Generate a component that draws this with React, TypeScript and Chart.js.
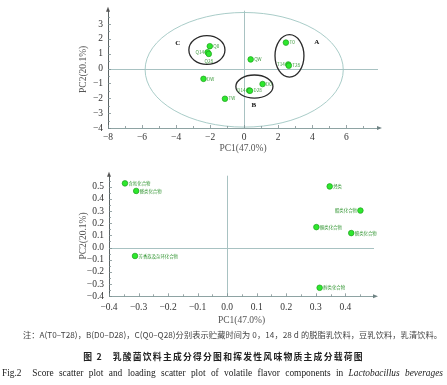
import React, { useEffect, useRef } from 'react';
import { Chart, registerables } from 'chart.js';

Chart.register(...registerables);

// ---------- Score plot (top) ----------
const scoreLabels = ['Q0', 'Q14', 'Q28', 'QW', 'T0', 'T14', 'T28', 'D0', 'D14', 'D28', 'DW', 'TW'];
const scoreX = [-2.02, -2.15, -2.08, 0.38, 2.45, 2.59, 2.62, 1.08, 0.29, 0.34, -2.39, -1.13];
const scoreY = [1.51, 1.1, 0.99, 0.62, 1.75, 0.28, 0.2, -1.04, -1.47, -1.49, -0.69, -2.03];
const scoreLabelSide = ['right', 'left', 'below', 'right', 'right', 'left', 'right', 'right', 'left', 'right', 'right', 'right'];

const groupNames = ['A', 'B', 'C'];
const groupCx = [2.66, 0.6, -2.19];
const groupCy = [0.86, -1.21, 1.25];
const groupRx = [0.85, 1.09, 1.06];
const groupRy = [1.43, 0.78, 0.97];
const groupLetterX = [4.27, 0.57, -3.9];
const groupLetterY = [1.77, -2.44, 1.7];

// 95% confidence ellipse
const confCx = 0;
const confCy = -0.08;
const confRx = 5.82;
const confRy = 3.86;

const scoreXTicks = [-8, -6, -4, -2, 0, 2, 4, 6];
const scoreYTicks = [-4, -3, -2, -1, 0, 1, 2, 3];

// ---------- Loading plot (bottom) ----------
const loadLabels = ['含氮化合物', '醛类化合物', '芳香族及杂环化合物', '烃类', '酯类化合物', '酮类化合物', '酸类化合物', '醇类化合物'];
const loadX = [-0.346, -0.308, -0.312, 0.347, 0.451, 0.302, 0.42, 0.313];
const loadY = [0.527, 0.465, -0.069, 0.502, 0.304, 0.168, 0.119, -0.33];
const loadLabelSide = ['right', 'right', 'right', 'right', 'left', 'right', 'right', 'right'];

const loadXTicks = [-0.4, -0.3, -0.2, -0.1, 0.0, 0.1, 0.2, 0.3, 0.4];
const loadYTicks = [-0.4, -0.3, -0.2, -0.1, 0.0, 0.1, 0.2, 0.3, 0.4, 0.5];

const SERIF = '"Liberation Serif", "Times New Roman", serif';
const CJK = '"Noto Sans CJK SC", "Noto Sans", sans-serif';

type Extra = {
  labels: string[];
  sides: string[];
  minorX: number;
  minorY: number;
  groups?: boolean;
};

function decorPlugin(extra: Extra) {
  return {
    id: 'decor',
    beforeDatasetsDraw(chart: any) {
      const { ctx, chartArea: a, scales } = chart;
      const x = scales.x;
      const y = scales.y;
      ctx.save();
      ctx.strokeStyle = '#a8c2c2';
      ctx.lineWidth = 1;
      const x0 = Math.round(x.getPixelForValue(0)) + 0.5;
      const y0 = Math.round(y.getPixelForValue(0)) + 0.5;
      ctx.beginPath();
      ctx.moveTo(x0, a.top);
      ctx.lineTo(x0, a.bottom);
      ctx.moveTo(a.left, y0);
      ctx.lineTo(a.right, y0);
      ctx.stroke();

      if (extra.groups) {
        const ell = (cx: number, cy: number, rx: number, ry: number) => {
          const px = x.getPixelForValue(cx);
          const py = y.getPixelForValue(cy);
          const prx = Math.abs(x.getPixelForValue(cx + rx) - px);
          const pry = Math.abs(y.getPixelForValue(cy + ry) - py);
          ctx.beginPath();
          ctx.ellipse(px, py, prx, pry, 0, 0, Math.PI * 2);
          ctx.stroke();
        };
        ctx.strokeStyle = '#9fc6c2';
        ctx.lineWidth = 0.9;
        ell(confCx, confCy, confRx, confRy);
        ctx.strokeStyle = '#2a2a2a';
        ctx.lineWidth = 1.3;
        for (let i = 0; i < groupNames.length; i++) {
          ell(groupCx[i], groupCy[i], groupRx[i], groupRy[i]);
        }
        ctx.fillStyle = '#111';
        ctx.font = 'bold 7px ' + SERIF;
        ctx.textAlign = 'center';
        ctx.textBaseline = 'middle';
        for (let i = 0; i < groupNames.length; i++) {
          ctx.fillText(groupNames[i], x.getPixelForValue(groupLetterX[i]), y.getPixelForValue(groupLetterY[i]));
        }
      }
      ctx.restore();
    },
    afterDatasetsDraw(chart: any) {
      const { ctx } = chart;
      const meta = chart.getDatasetMeta(0);
      ctx.save();
      ctx.fillStyle = '#3a9a3a';
      ctx.font = (extra.groups ? '4.6px ' : '4.4px ') + CJK;
      ctx.textBaseline = 'middle';
      meta.data.forEach((pt: any, i: number) => {
        const side = extra.sides[i];
        const t = extra.labels[i];
        if (side === 'left') {
          ctx.textAlign = 'right';
          ctx.fillText(t, pt.x - 3.5, pt.y);
        } else if (side === 'below') {
          ctx.textAlign = 'center';
          ctx.fillText(t, pt.x, pt.y + 7);
        } else {
          ctx.textAlign = 'left';
          ctx.fillText(t, pt.x + 3.5, pt.y);
        }
      });
      ctx.restore();
    },
    afterDraw(chart: any) {
      const { ctx, chartArea: a, scales } = chart;
      const x = scales.x;
      const y = scales.y;
      ctx.save();
      ctx.strokeStyle = '#7d8f90';
      ctx.lineWidth = 0.8;
      ctx.beginPath();
      const xmin = x.min;
      const xmax = x.max;
      const nx = Math.floor((xmax - xmin) / extra.minorX + 1e-6);
      for (let i = 0; i <= nx; i++) {
        const v = xmin + i * extra.minorX;
        const px = Math.round(x.getPixelForValue(v)) + 0.5;
        const major = i % 2 === 0;
        ctx.moveTo(px, a.bottom);
        ctx.lineTo(px, a.bottom - (major ? 3 : 2));
      }
      const ymin = y.min;
      const ymax = y.max;
      const ny = Math.floor((ymax - ymin) / extra.minorY + 1e-6);
      for (let i = 0; i <= ny; i++) {
        const v = ymin + i * extra.minorY;
        const py = Math.round(y.getPixelForValue(v)) + 0.5;
        const major = i % 2 === 0;
        ctx.moveTo(a.left, py);
        ctx.lineTo(a.left + (major ? 3 : 2), py);
      }
      ctx.stroke();
      // arrows
      ctx.fillStyle = '#555';
      ctx.beginPath();
      ctx.moveTo(a.left, a.top - 4);
      ctx.lineTo(a.left - 2, a.top + 1);
      ctx.lineTo(a.left + 2, a.top + 1);
      ctx.closePath();
      ctx.fill();
      ctx.fillStyle = '#6f8384';
      ctx.beginPath();
      ctx.moveTo(a.right + 4, a.bottom);
      ctx.lineTo(a.right - 1, a.bottom - 2);
      ctx.lineTo(a.right - 1, a.bottom + 2);
      ctx.closePath();
      ctx.fill();
      ctx.restore();
    },
  };
}

type Setup = {
  xs: number[];
  ys: number[];
  xTicks: number[];
  yTicks: number[];
  xMin: number;
  xMax: number;
  yMin: number;
  yMax: number;
  decimals: number;
  yAxisWidth: number;
  xAxisHeight: number;
  padTop: number;
  padRight: number;
  xLabelPad: number;
  xTitlePad: number;
  extra: Extra;
};

function fmt(v: number, d: number) {
  const s = Math.abs(v) < 1e-9 ? (0).toFixed(d) : v.toFixed(d);
  return s.replace('-', '\u2212');
}

function ChartBox({ setup, width, height, left, top }: { setup: Setup; width: number; height: number; left: number; top: number }) {
  const ref = useRef<HTMLCanvasElement | null>(null);
  useEffect(() => {
    if (!ref.current) return;
    const s = setup;
    const pts = s.xs.map((v, i) => ({ x: v, y: s.ys[i] }));
    const chart = new Chart(ref.current, {
      type: 'scatter',
      data: {
        datasets: [
          {
            data: pts,
            pointRadius: 2.8,
            pointHoverRadius: 2.8,
            backgroundColor: '#2de82d',
            borderColor: '#1f9f1f',
            borderWidth: 0.7,
          },
        ],
      },
      plugins: [decorPlugin(s.extra)],
      options: {
        animation: false,
        responsive: false,
        maintainAspectRatio: false,
        events: [],
        layout: { padding: { top: s.padTop, right: s.padRight, left: 0, bottom: 0 } },
        plugins: { legend: { display: false }, tooltip: { enabled: false } },
        scales: {
          x: {
            type: 'linear',
            min: s.xMin,
            max: s.xMax,
            afterFit: (sc: any) => {
              sc.height = s.xAxisHeight;
            },
            afterBuildTicks: (sc: any) => {
              sc.ticks = s.xTicks.map((v) => ({ value: v }));
            },
            ticks: {
              autoSkip: false,
              maxRotation: 0,
              padding: s.xLabelPad,
              color: '#333',
              font: { family: SERIF, size: 9.5 },
              callback: (v: any) => fmt(Number(v), s.decimals),
            },
            grid: { display: false, drawTicks: false },
            border: { display: true, color: '#8ea3a3', width: 1 },
            title: {
              display: true,
              text: 'PC1(47.0%)',
              color: '#555',
              font: { family: SERIF, size: 9.5 },
              padding: { top: 0, bottom: s.xTitlePad },
            },
          },
          y: {
            type: 'linear',
            min: s.yMin,
            max: s.yMax,
            afterFit: (sc: any) => {
              sc.width = s.yAxisWidth;
            },
            afterBuildTicks: (sc: any) => {
              sc.ticks = s.yTicks.map((v) => ({ value: v }));
            },
            ticks: {
              autoSkip: false,
              padding: 5,
              color: '#333',
              font: { family: SERIF, size: 9.5 },
              callback: (v: any) => fmt(Number(v), s.decimals),
            },
            grid: { display: false, drawTicks: false },
            border: { display: true, color: '#5c6465', width: 1 },
            title: {
              display: true,
              text: 'PC2(20.1%)',
              color: '#555',
              font: { family: SERIF, size: 9.5 },
              padding: { top: 83 - 5.7, bottom: 0 },
            },
          },
        },
      } as any,
    });
    return () => chart.destroy();
  }, [setup]);
  return (
    <canvas
      ref={ref}
      width={width}
      height={height}
      style={{ position: 'absolute', left, top, width, height }}
    />
  );
}

const topSetup: Setup = {
  xs: scoreX,
  ys: scoreY,
  xTicks: scoreXTicks,
  yTicks: scoreYTicks,
  xMin: -8,
  xMax: 7.86,
  yMin: -4,
  yMax: 3.9,
  decimals: 0,
  yAxisWidth: 108,
  xAxisHeight: 27,
  padTop: 6,
  padRight: 69,
  xLabelPad: 4,
  xTitlePad: 1,
  extra: { labels: scoreLabels, sides: scoreLabelSide, minorX: 1, minorY: 0.5, groups: true },
};

const bottomSetup: Setup = {
  xs: loadX,
  ys: loadY,
  xTicks: loadXTicks,
  yTicks: loadYTicks,
  xMin: -0.4,
  xMax: 0.497,
  yMin: -0.4,
  yMax: 0.59,
  decimals: 1,
  yAxisWidth: 109,
  xAxisHeight: 33.7,
  padTop: 10,
  padRight: 73,
  xLabelPad: 5,
  xTitlePad: 4.3,
  extra: { labels: loadLabels, sides: loadLabelSide, minorX: 0.05, minorY: 0.05 },
};

export default function App() {
  return (
    <div style={{ position: 'absolute', left: 0, top: 0, width: 447, height: 385, background: '#fff', overflow: 'hidden' }}>
      <ChartBox setup={topSetup} width={447} height={155} left={0} top={0} />
      <ChartBox setup={bottomSetup} width={447} height={165} left={0} top={165} />
      <div
        style={{
          position: 'absolute',
          left: 23,
          width: 419,
          top: 329,
          whiteSpace: 'nowrap',
          fontFamily: CJK,
          fontSize: 8.2,
          lineHeight: '11px',
          color: '#444',
          textAlign: 'justify',
          textAlignLast: 'justify',
        }}
      >
        注：A(T0–T28)，B(D0–D28)，C(Q0–Q28)分别表示贮藏时间为 0，14，28 d 的脱脂乳饮料，豆乳饮料，乳清饮料。
      </div>
      <div
        style={{
          position: 'absolute',
          left: 0,
          width: 447,
          top: 351,
          textAlign: 'center',
          whiteSpace: 'nowrap',
          fontFamily: CJK,
          fontWeight: 'bold',
          fontSize: 8.8,
          letterSpacing: '1.25px',
          lineHeight: '12px',
          color: '#222',
        }}
      >
        图 2&nbsp;&nbsp;&nbsp;乳酸菌饮料主成分得分图和挥发性风味物质主成分载荷图
      </div>
      <div
        style={{
          position: 'absolute',
          left: 2,
          width: 441,
          top: 367,
          whiteSpace: 'nowrap',
          fontFamily: SERIF,
          fontSize: 9.4,
          lineHeight: '12px',
          color: '#222',
          textAlign: 'justify',
          textAlignLast: 'justify',
        }}
      >
        Fig.2&nbsp;&nbsp;Score scatter plot and loading scatter plot of volatile flavor components in <i>Lactobacillus beverages</i>
      </div>
    </div>
  );
}
